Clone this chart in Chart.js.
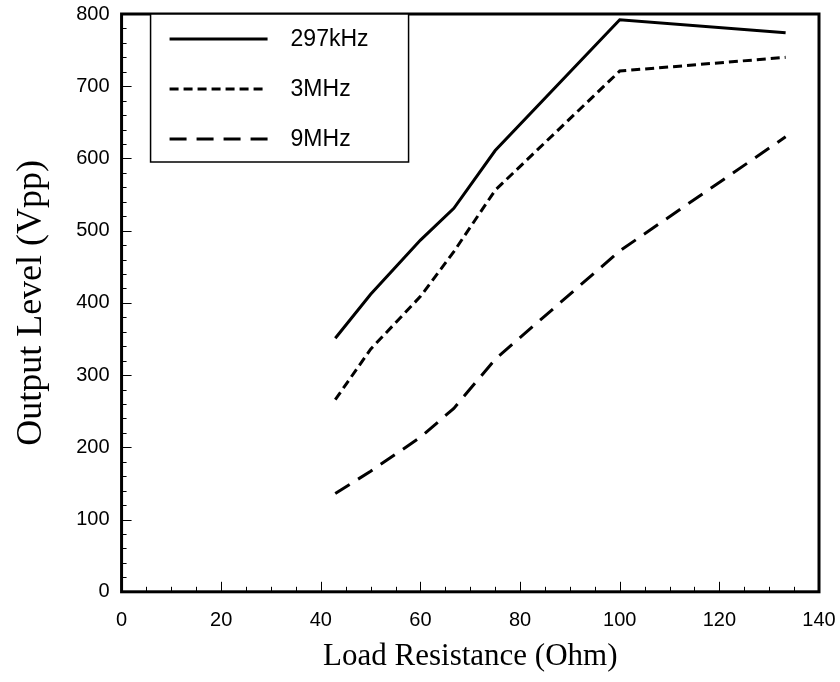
<!DOCTYPE html>
<html>
<head>
<meta charset="utf-8">
<script src="https://cdn.jsdelivr.net/npm/chart.js@4/dist/chart.umd.min.js"></script>
<style>
  html, body { margin: 0; padding: 0; background: #fff; }
  #wrap { width: 840px; height: 682px; position: relative; }
</style>
</head>
<body>
<div id="wrap"><canvas id="chart"></canvas></div>
<script>
// load resistance (Ohm)
const loads = [42.9, 50, 60, 66.7, 75, 100, 133.3];
const seriesNames = ['297kHz', '3MHz', '9MHz'];
const out297k = [351, 412, 487, 531, 611, 792, 774];
const out3M = [266, 336, 409, 471, 556, 721, 740];
const out9M = [136, 167, 214, 254, 322, 472, 630];
const xTicks = [0, 20, 40, 60, 80, 100, 120, 140];
const yTicks = [0, 100, 200, 300, 400, 500, 600, 700, 800];

const tickFont = { family: "'Liberation Sans', Arial, sans-serif", size: 20 };
const legendFont = { family: "'Liberation Sans', Arial, sans-serif", size: 23 };
const xTitleFont = { family: "'Liberation Serif', 'DejaVu Serif', serif", size: 31 };
const yTitleFont = { family: "'Liberation Serif', 'DejaVu Serif', serif", size: 36 };

const pts = vals => vals.map((v, i) => ({ x: loads[i], y: v }));

// frame box + inside tick marks, drawn from the scales
const framePlugin = {
  id: 'frame',
  afterDatasetsDraw(chart) {
    const { ctx, chartArea: a, scales } = chart;
    ctx.save();
    ctx.strokeStyle = '#000';
    ctx.lineWidth = 1;
    for (let v = 0; v <= 140; v += 5) {
      const px = Math.round(scales.x.getPixelForValue(v)) + 0.5;
      const len = v % 20 === 0 ? 10 : 5;
      ctx.beginPath(); ctx.moveTo(px, a.bottom); ctx.lineTo(px, a.bottom - len); ctx.stroke();
    }
    for (let v = 0; v <= 800; v += 20) {
      const py = Math.round(scales.y.getPixelForValue(v)) + 0.5;
      const len = v % 100 === 0 ? 10 : 5;
      ctx.beginPath(); ctx.moveTo(a.left, py); ctx.lineTo(a.left + len, py); ctx.stroke();
    }
    ctx.lineWidth = 3;
    ctx.strokeRect(a.left, a.top, a.right - a.left, a.bottom - a.top);
    ctx.restore();
  }
};

// boxed legend in the upper-left corner
const legendBox = {
  id: 'legendBox',
  afterDatasetsDraw(chart) {
    const { ctx, chartArea: a } = chart;
    const x0 = a.left + 29, y0 = a.top, w = 258, h = 148;
    ctx.save();
    ctx.fillStyle = '#fff';
    ctx.fillRect(x0, y0, w, h);
    ctx.strokeStyle = '#000';
    ctx.lineWidth = 1.5;
    ctx.strokeRect(x0, y0, w, h);
    chart.data.datasets.forEach((ds, i) => {
      const y = y0 + 25 + i * 50;
      ctx.lineWidth = 3;
      ctx.setLineDash(ds.borderDash || []);
      ctx.beginPath(); ctx.moveTo(x0 + 19, y); ctx.lineTo(x0 + 117, y); ctx.stroke();
      ctx.setLineDash([]);
      ctx.fillStyle = '#000';
      ctx.font = `${legendFont.size}px ${legendFont.family}`;
      ctx.textBaseline = 'middle';
      ctx.fillText(ds.label, x0 + 140, y + 1);
    });
    ctx.restore();
  }
};

new Chart(document.getElementById('chart'), {
  type: 'line',
  data: {
    datasets: [
      { label: seriesNames[0], data: pts(out297k), borderDash: [] },
      { label: seriesNames[1], data: pts(out3M), borderDash: [9, 5] },
      { label: seriesNames[2], data: pts(out9M), borderDash: [17, 10] }
    ].map(d => Object.assign(d, {
      borderColor: '#000', borderWidth: 3, pointRadius: 0, tension: 0, fill: false
    }))
  },
  options: {
    responsive: true,
    maintainAspectRatio: false,
    animation: false,
    layout: { padding: { left: 10, right: 21, top: 14, bottom: 7 } },
    plugins: { legend: { display: false }, tooltip: { enabled: false } },
    scales: {
      x: {
        type: 'linear', min: 0, max: 140,
        afterBuildTicks: s => { s.ticks = xTicks.map(v => ({ value: v })); },
        afterFit: s => { s.paddingLeft = 0; s.paddingRight = 0; },
        grid: { display: false, drawTicks: false },
        border: { display: false },
        ticks: { color: '#000', font: tickFont, padding: 17, maxRotation: 0 },
        title: { display: true, text: 'Load Resistance (Ohm)', color: '#000', font: xTitleFont, padding: { top: -12, bottom: 0 } }
      },
      y: {
        type: 'linear', min: 0, max: 800,
        afterBuildTicks: s => { s.ticks = yTicks.map(v => ({ value: v })); },
        afterFit: s => { s.paddingTop = 0; s.paddingBottom = 0; },
        grid: { display: false, drawTicks: false },
        border: { display: false },
        ticks: { color: '#000', font: tickFont, padding: 12 },
        title: { display: true, text: 'Output Level (Vpp)', color: '#000', font: yTitleFont, padding: { top: 0, bottom: 11 } }
      }
    }
  },
  plugins: [framePlugin, legendBox]
});
</script>
</body>
</html>
